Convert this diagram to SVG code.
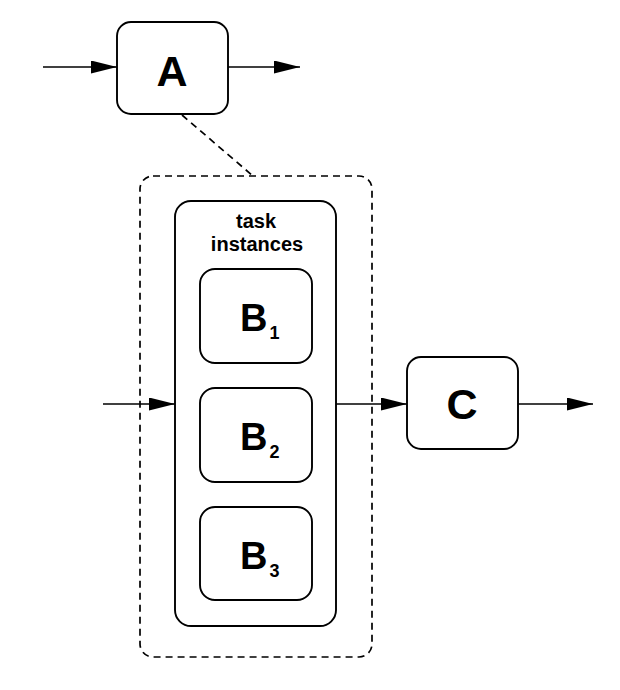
<svg xmlns="http://www.w3.org/2000/svg" width="620" height="690" viewBox="0 0 620 690">
<defs>
<marker id="arr" markerUnits="userSpaceOnUse" markerWidth="27" markerHeight="14" refX="26" refY="6.5" orient="auto">
<path d="M0,0 L26,6.5 L0,13 Z" fill="#000"/>
</marker>
<style>
.box{fill:#fff;stroke:#000;stroke-width:1.9}
.dash{fill:none;stroke:#000;stroke-width:1.7;stroke-dasharray:7,5}
.conn{fill:none;stroke:#000;stroke-width:1.7}
.big{font-family:"Liberation Sans",Arial,sans-serif;font-weight:bold;fill:#000}
</style>
</defs>
<rect width="620" height="690" fill="#fff"/>
<g id="group">
<rect class="dash" x="140" y="176" width="232" height="481" rx="13"/>
</g>
<g id="connectors">
<line class="dash" x1="182" y1="115" x2="253" y2="176"/>
<line class="conn" x1="43" y1="67" x2="117" y2="67" marker-end="url(#arr)"/>
<line class="conn" x1="228" y1="67" x2="300" y2="67" marker-end="url(#arr)"/>
<line class="conn" x1="103" y1="404" x2="175" y2="404" marker-end="url(#arr)"/>
<line class="conn" x1="336" y1="404" x2="407" y2="404" marker-end="url(#arr)"/>
<line class="conn" x1="518" y1="404" x2="593" y2="404" marker-end="url(#arr)"/>
</g>
<g id="A">
<rect class="box" x="117" y="22" width="111" height="92" rx="14"/>
<text class="big" x="172" y="86" font-size="43" text-anchor="middle">A</text>
</g>
<g id="taskInstances">
<rect class="box" x="175" y="201" width="161" height="425" rx="16"/>
<text class="big" x="256" y="228" font-size="20" text-anchor="middle">task</text>
<text class="big" x="257" y="251" font-size="20" text-anchor="middle">instances</text>
</g>
<g id="B1">
<rect class="box" x="200" y="269" width="112" height="94" rx="15"/>
<text class="big" x="240" y="331" font-size="38">B<tspan font-size="18" dx="2" dy="8">1</tspan></text>
</g>
<g id="B2">
<rect class="box" x="200" y="388" width="112" height="94" rx="15"/>
<text class="big" x="240" y="450" font-size="38">B<tspan font-size="18" dx="2" dy="8">2</tspan></text>
</g>
<g id="B3">
<rect class="box" x="200" y="507" width="112" height="93" rx="15"/>
<text class="big" x="240" y="569" font-size="38">B<tspan font-size="18" dx="2" dy="8">3</tspan></text>
</g>
<g id="C">
<rect class="box" x="407" y="357" width="111" height="92" rx="14"/>
<text class="big" x="462" y="419" font-size="43" text-anchor="middle">C</text>
</g>
</svg>
